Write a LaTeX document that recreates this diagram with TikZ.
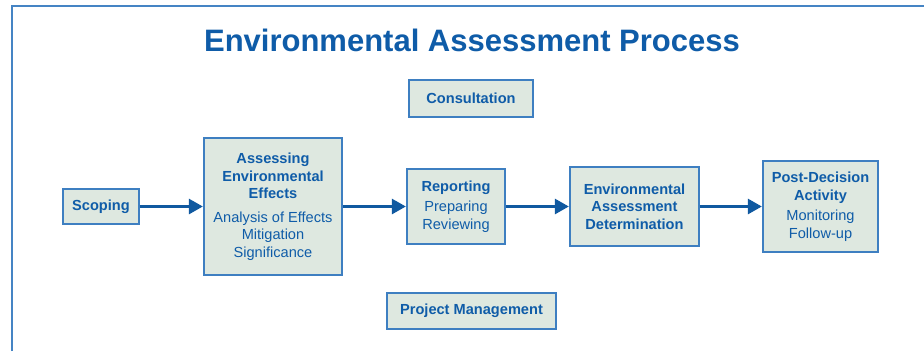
\documentclass[tikz,border=0pt]{standalone}
\usepackage{fontspec}
\setmainfont{Liberation Sans}
\usetikzlibrary{arrows.meta}
\definecolor{txtblue}{HTML}{0F5CA8}
\definecolor{boxfill}{HTML}{DEE8E0}
\definecolor{boxline}{HTML}{3E7FC1}
\definecolor{arrblue}{HTML}{1059A0}
\definecolor{framec}{HTML}{4584C4}
\tikzset{
  procbox/.style={draw=boxline, line width=1.1pt, fill=boxfill, text=txtblue, align=center, inner sep=0pt,
    font=\fontsize{14.6}{17.5}\selectfont},
  flow/.style={draw=arrblue, line width=2.8pt, -{Triangle[length=14pt,width=15pt]}, shorten >=0.6pt}
}
\newcommand{\bt}[1]{\textbf{#1}}
\begin{document}
\begin{tikzpicture}[x=1pt,y=-1pt]
\useasboundingbox (0,0) rectangle (924,351);
\draw[framec, line width=1.8pt] (12,351) -- (12,6) -- (924,6);
\node[text=txtblue, font=\fontsize{31}{36}\selectfont\bfseries] (title) at (472,40) {Environmental Assessment Process};

\node[procbox, minimum width=76pt, minimum height=35pt] (scope) at (101,206.5) {\bt{Scoping}};
\node[procbox, minimum width=138pt, minimum height=137pt] (assess) at (273,206.5)
  {\bt{Assessing}\\\bt{Environmental}\\\bt{Effects}\\[6pt]Analysis of Effects\\Mitigation\\Significance};
\node[procbox, minimum width=98pt, minimum height=75pt] (report) at (456,206.5)
  {\bt{Reporting}\\[3pt]Preparing\\Reviewing};
\node[procbox, minimum width=129pt, minimum height=79pt] (determ) at (634.5,206.5)
  {\bt{Environmental}\\\bt{Assessment}\\\bt{Determination}};
\node[procbox, minimum width=115pt, minimum height=91pt] (post) at (820.5,206.5)
  {\bt{Post-Decision}\\\bt{Activity}\\[3pt]Monitoring\\Follow-up};
\node[procbox, minimum width=124pt, minimum height=37pt] (consult) at (471,98.5) {\bt{Consultation}};
\node[procbox, minimum width=169pt, minimum height=36pt] (pm) at (471.5,311) {\bt{Project Management}};

\draw[flow] (scope.east) -- (assess.west |- scope.east);
\draw[flow] (assess.east) -- (report.west |- assess.east);
\draw[flow] (report.east) -- (determ.west |- report.east);
\draw[flow] (determ.east) -- (post.west |- determ.east);
\end{tikzpicture}
\end{document}
